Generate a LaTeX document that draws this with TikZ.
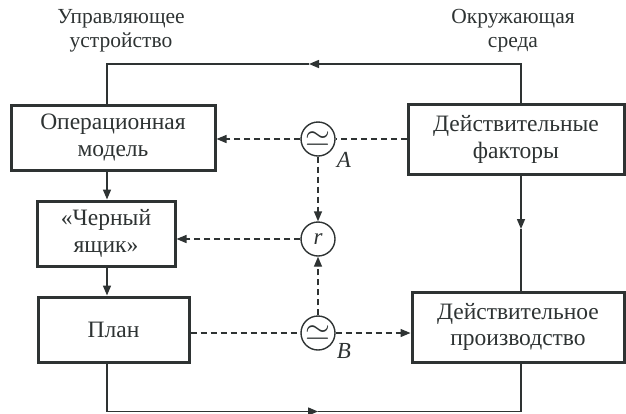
\RequirePackage{fix-cm}
\documentclass[tikz,border=0pt]{standalone}
\usepackage{fontspec}
\setmainfont{Liberation Serif}
\usetikzlibrary{arrows.meta}
\definecolor{ink}{HTML}{2E3333}
\begin{document}
\begin{tikzpicture}[x=1pt,y=-1pt,
  every node/.style={text=ink},
  txt/.style={align=center, font=\fontsize{21.5}{24}\selectfont, inner sep=0},
  box/.style={draw=ink, line width=3pt, fill=white, align=center,
    font=\fontsize{23.5}{26.5}\selectfont, inner sep=0},
  conn/.style={draw=ink, line width=1.5pt},
  dconn/.style={conn, line width=1.4pt, dash pattern=on 6pt off 4pt},
  tip/.style={-{Triangle[length=10pt,width=8pt]}},
  cmp/.style={circle, draw=ink, line width=1.4pt, minimum size=34pt, inner sep=0},
  sim/.style={font=\fontsize{32}{32}\selectfont},
  lbl/.style={font=\fontsize{23}{23}\selectfont\itshape, inner sep=0}]
\useasboundingbox (0,0) rectangle (626,413);
% labels
\node[txt] (lctl) at (121,31) {Управляющее\\устройство};
\node[txt] (lenv) at (513,31) {Окружающая\\среда};
% boxes
\node[box, minimum width=204pt, minimum height=65pt] (opm) at (113,137.5) {Операционная\\модель};
\node[box, minimum width=216pt, minimum height=70pt] (fact) at (516,139.5) {Действительные\\факторы};
\node[box, minimum width=138pt, minimum height=65pt] (bb) at (106,233.5) {«Черный\\ящик»};
\node[box, minimum width=151pt, minimum height=65pt] (plan) at (113.5,329.5) {План};
\node[box, minimum width=212pt, minimum height=70pt] (prod) at (518,327) {Действительное\\производство};
% comparators
\node[cmp, sim] (A) at (318,139) {$\simeq$};
\node[cmp] (R) at (318,239) {\fontsize{23}{23}\selectfont\itshape r};
\node[cmp, sim] (B) at (318,333) {$\simeq$};
\node[lbl] (la) at (344,160) {A};
\node[lbl] (lb) at (344,351) {B};
% helper coordinates
\coordinate (lx) at (107,0);
\coordinate (rx) at (521,0);
\coordinate (topm) at (309,64);
\coordinate (botm) at (318,411.5);
\coordinate (rmid) at (521,229);
% solid connectors
\draw[conn, tip] (fact.north -| rx) |- (topm);
\draw[conn] (topm) -| (opm.north -| lx);
\draw[conn, tip] (opm.south -| lx) -- (bb.north -| lx);
\draw[conn, tip] (bb.south -| lx) -- (plan.north -| lx);
\draw[conn, tip] (plan.south -| lx) |- (botm);
\draw[conn] (botm) -| (prod.south -| rx);
\draw[conn, tip] (fact.south -| rx) -- (rmid);
\draw[conn] (rmid) -- (prod.north -| rx);
% dashed connectors
\draw[dconn] (fact.west |- A) -- (A.east);
\draw[dconn, tip] (A.west) -- (opm.east |- A);
\draw[dconn, tip] (A.south) -- (R.north);
\draw[dconn, tip] (B.north) -- (R.south);
\draw[dconn, tip] (R.west) -- (bb.east |- R);
\draw[dconn] (plan.east |- B) -- (B.west);
\draw[dconn, tip] (B.east) -- (prod.west |- B);
\end{tikzpicture}
\end{document}
